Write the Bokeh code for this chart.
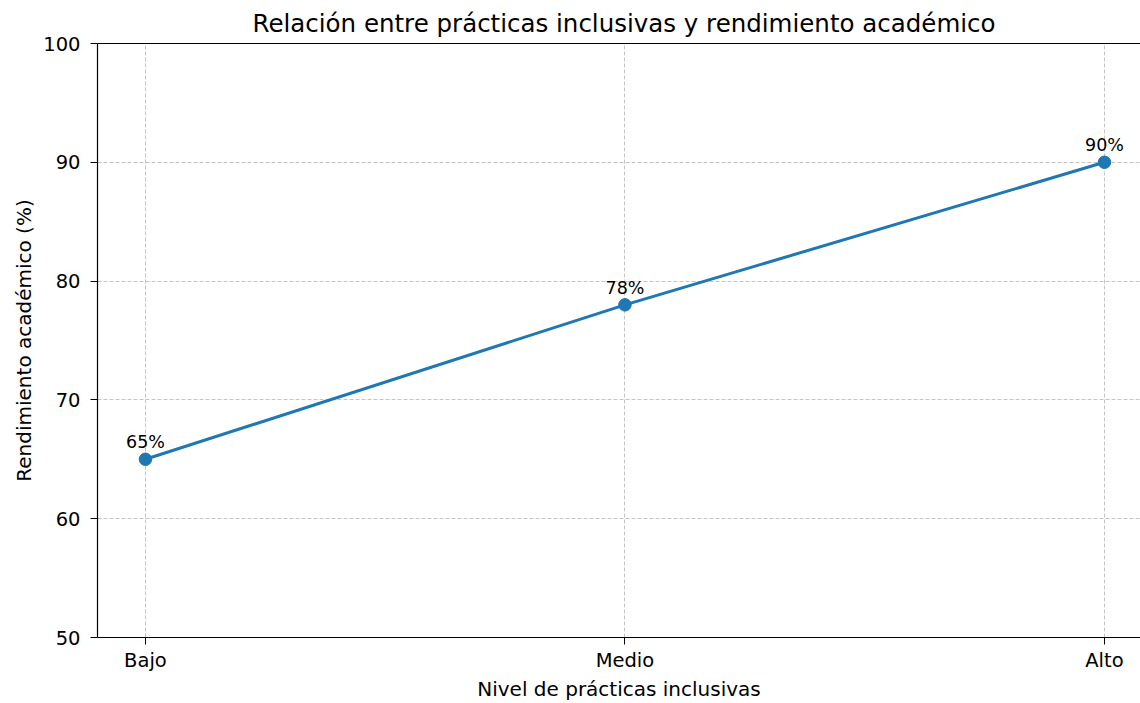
from bokeh.plotting import figure
from bokeh.models import ColumnDataSource, FixedTicker, LinearAxis, Range1d
from bokeh.core.properties import value
from bokeh.embed import file_html
from bokeh.resources import INLINE

# Data
categories = ["Bajo", "Medio", "Alto"]
rendimiento = [65, 78, 90]
labels = ["65%", "78%", "90%"]
y_ticks = [50, 60, 70, 80, 90, 100]

FONT = "DejaVu Sans"
BLUE = "#1f77b4"

xs = list(range(len(categories)))
src = ColumnDataSource(dict(x=xs, y=rendimiento, lab=labels))

p = figure(width=1140, height=703, output_backend="svg", toolbar_location=None,
           x_range=Range1d(-0.1, 2.0752), y_range=Range1d(50, 100),
           min_border_left=97, min_border_right=0, min_border_top=43,
           min_border_bottom=66)

p.title.text = "Relación entre prácticas inclusivas y rendimiento académico"
p.title.align = "left"
p.title.offset = 155
p.title.text_font = FONT
p.title.text_font_size = "24.5px"
p.title.text_font_style = "normal"
p.title.text_color = "#000000"
p.title.standoff = 12

p.outline_line_color = None
p.background_fill_color = "white"
p.border_fill_color = "white"

# axes
for ax in (p.xaxis[0], p.yaxis[0]):
    ax.axis_line_color = "black"
    ax.axis_line_width = 1.2
    ax.major_tick_line_color = "black"
    ax.major_tick_in = 0
    ax.major_tick_out = 7
    ax.minor_tick_line_color = None
    ax.major_label_text_font = FONT
    ax.major_label_text_font_size = "19.5px"
    ax.major_label_text_color = "#000000"
    ax.axis_label_text_font = FONT
    ax.axis_label_text_font_size = "20px"
    ax.axis_label_text_font_style = "normal"
    ax.axis_label_text_color = "#000000"

p.xaxis.ticker = FixedTicker(ticks=xs)
p.xaxis.major_label_overrides = {i: c for i, c in enumerate(categories)}
p.xaxis.axis_label = "Nivel de prácticas inclusivas"
p.xaxis.major_label_standoff = 4
p.xaxis.axis_label_standoff = 2

p.yaxis.ticker = FixedTicker(ticks=y_ticks)
p.yaxis.axis_label = "Rendimiento académico (%)"
p.yaxis.major_label_standoff = 10
p.yaxis.axis_label_standoff = 4

# top spine
top = LinearAxis(ticker=FixedTicker(ticks=[]), major_label_text_font_size="0px",
                 axis_line_color="black", axis_line_width=1.2,
                 major_tick_line_color=None, minor_tick_line_color=None)
p.add_layout(top, "above")

# grid
for g in (p.xgrid[0], p.ygrid[0]):
    g.grid_line_color = "#b0b0b0"
    g.grid_line_alpha = 0.75
    g.grid_line_dash = "4 2"
    g.grid_line_width = 1
p.xgrid.ticker = FixedTicker(ticks=xs)
p.ygrid.ticker = FixedTicker(ticks=y_ticks)

p.line("x", "y", source=src, line_color=BLUE, line_width=3)
p.scatter("x", "y", source=src, size=12.5, fill_color=BLUE, line_color=BLUE)
p.text("x", "y", text="lab", source=src, text_align="center",
       text_baseline="alphabetic", y_offset=-17,
       text_font=value(FONT), text_font_size="17.5px", text_color="#000000")

open("out.html", "w").write(file_html(p, INLINE))
